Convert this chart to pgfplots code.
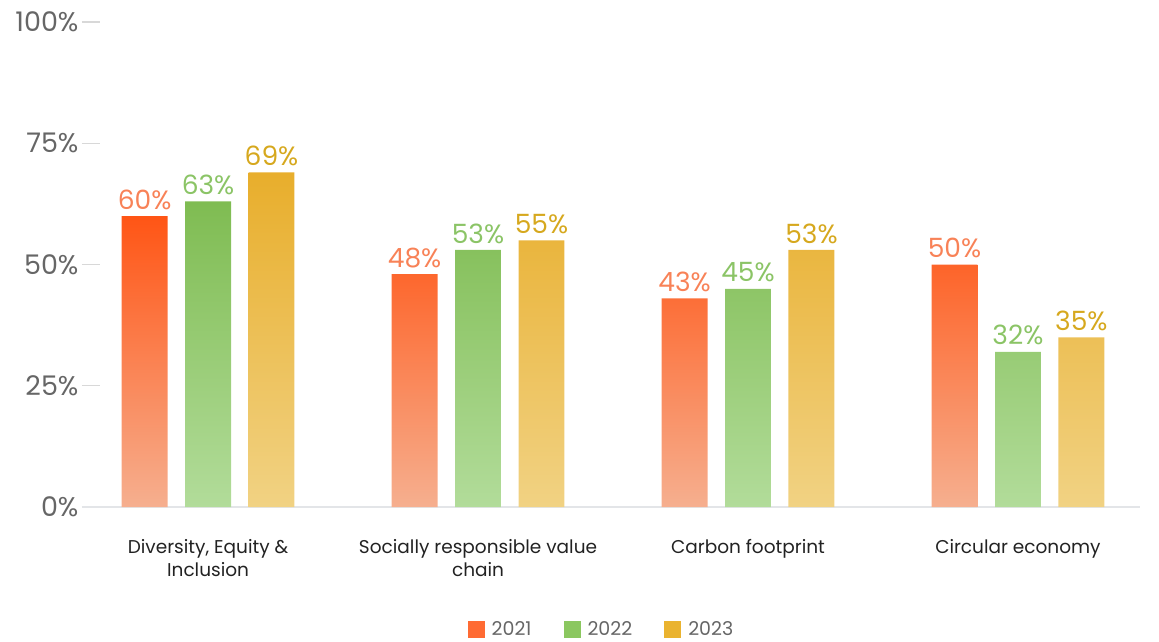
\documentclass[border=0pt]{standalone}
\usepackage{pgfplots}
\pgfplotsset{compat=1.18}
\usepackage{fontspec}
\setmainfont{Poppins}
\definecolor{c21top}{HTML}{FF5515}
\definecolor{c21bot}{HTML}{F6AF8F}
\definecolor{c22top}{HTML}{7FBC52}
\definecolor{c22bot}{HTML}{B2DC9A}
\definecolor{c23top}{HTML}{E8AE2C}
\definecolor{c23bot}{HTML}{F1D283}
\definecolor{c21lab}{HTML}{F88257}
\definecolor{c22lab}{HTML}{8BC466}
\definecolor{c23lab}{HTML}{D6A81E}
\definecolor{c21leg}{HTML}{FF6B33}
\definecolor{c22leg}{HTML}{8BC760}
\definecolor{c23leg}{HTML}{EAB32F}
\definecolor{axisgray}{HTML}{E3E5E8}
\definecolor{tickline}{HTML}{D8D8D8}
\definecolor{tickgray}{HTML}{666666}
\definecolor{labelblack}{HTML}{222222}
\begin{document}
\begin{tikzpicture}
\useasboundingbox (-82pt,-134pt) rectangle (1077pt,507pt);
\begin{axis}[
  at={(0pt,0pt)}, anchor=south west,
  scale only axis, width=1058pt, height=485pt,
  xmin=-0.467, xmax=3.452, ymin=0, ymax=100,
  ybar,
  axis x line*=bottom, axis y line*=left,
  x axis line style={draw=axisgray, line width=2pt, -},
  y axis line style={draw=none},
  xtick={0,1,2,3},
  xticklabels={{Diversity, Equity \&\\Inclusion}, {Socially responsible value\\chain}, {Carbon footprint}, {Circular economy}},
  xticklabel style={align=center, font=\fontsize{18.5}{22.5}\selectfont, text=labelblack, anchor=north, yshift=-29pt},
  xtick style={draw=none},
  ytick={0,25,50,75,100},
  yticklabel={\pgfmathprintnumber{\tick}\%},
  yticklabel style={font=\fontsize{27}{32}\selectfont, text=tickgray},
  ytick style={draw=tickline, line width=1.2pt},
  major tick length=18pt, tick align=inside,
  /pgf/number format/assume math mode=true,
  bar width=0.170,
  point meta=y,
  nodes near coords={\pgfmathprintnumber{\pgfplotspointmeta}\%},
  every node near coord/.append style={font=\fontsize{26.5}{31}\selectfont, anchor=south, yshift=3pt},
  legend columns=3,
  legend style={at={(0.491,-0.253)}, anchor=center, draw=none, fill=none, font=\fontsize{19}{22}\selectfont, text=tickgray, /tikz/every even column/.append style={column sep=30pt}},
  clip=false,
]
\addlegendimage{legend image code/.code={\fill[c21leg, draw=none] (0pt,-8.5pt) rectangle (17pt,8.5pt); \path[draw=none, fill=none] (0pt,0pt) -- (22pt,0pt);}}
\addlegendimage{legend image code/.code={\fill[c22leg, draw=none] (0pt,-8.5pt) rectangle (17pt,8.5pt); \path[draw=none, fill=none] (0pt,0pt) -- (22pt,0pt);}}
\addlegendimage{legend image code/.code={\fill[c23leg, draw=none] (0pt,-8.5pt) rectangle (17pt,8.5pt); \path[draw=none, fill=none] (0pt,0pt) -- (22pt,0pt);}}
\addplot[forget plot, bar shift=-0.235, draw=none, top color=c21top, bottom color=c21bot,
  every node near coord/.append style={text=c21lab}]
  coordinates {(0,60) (1,48) (2,43) (3,50)};
\addplot[forget plot, bar shift=0, draw=none, top color=c22top, bottom color=c22bot,
  every node near coord/.append style={text=c22lab}]
  coordinates {(0,63) (1,53) (2,45) (3,32)};
\addplot[forget plot, bar shift=0.235, draw=none, top color=c23top, bottom color=c23bot,
  every node near coord/.append style={text=c23lab}]
  coordinates {(0,69) (1,55) (2,53) (3,35)};
\legend{2021,2022,2023}
\end{axis}
\end{tikzpicture}
\end{document}
